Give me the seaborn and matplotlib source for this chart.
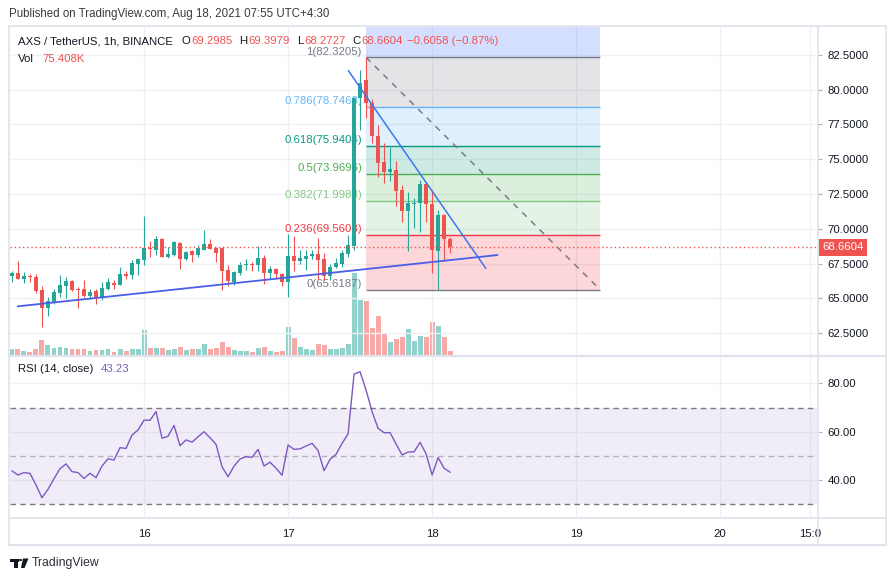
import numpy as np
import seaborn as sns
import matplotlib.pyplot as plt
import matplotlib.transforms as mtransforms
from matplotlib.lines import Line2D
from matplotlib.patches import Polygon, Circle

W, H = 892, 581

# hourly candles, x = hours since Aug 15 00:00 (local)
hours = list(range(2, 76))
opens = [66.60, 66.80, 66.40, 66.58, 66.53, 65.60, 64.30, 64.72, 65.40, 65.90,
         66.24, 65.66, 65.65, 65.16, 65.50, 65.07, 65.69, 66.07, 65.95, 66.74,
         66.67, 67.50, 67.77, 68.60, 68.47, 69.26, 68.00, 68.11, 68.98, 67.82,
         68.40, 68.11, 68.47, 68.90, 68.61, 68.61, 67.03, 66.17, 66.82, 67.39,
         67.50, 67.39, 67.90, 66.82, 67.10, 66.74, 66.17, 68.04, 67.70, 67.80,
         68.04, 68.18, 67.80, 66.60, 67.22, 67.50, 68.18, 68.76, 79.38, 80.70,
         79.03, 76.67, 74.80, 74.10, 74.23, 72.79, 71.30, 71.80, 71.87, 73.22,
         71.78, 68.42, 70.99, 69.2985]
highs = [66.95, 67.68, 66.90, 66.75, 66.75, 65.90, 65.10, 65.70, 66.70, 66.55,
         66.30, 65.83, 66.30, 65.66, 65.66, 66.15, 66.43, 66.31, 67.25, 66.96,
         67.75, 67.90, 70.90, 69.10, 69.48, 69.33, 68.68, 69.12, 69.05, 68.40,
         68.47, 68.83, 69.91, 69.26, 68.68, 68.68, 67.39, 66.96, 67.60, 67.82,
         67.60, 68.76, 68.11, 67.32, 67.18, 66.82, 69.62, 69.48, 68.47, 68.47,
         68.47, 69.33, 68.25, 67.50, 67.87, 68.47, 69.55, 79.50, 81.42, 82.3205,
         79.30, 77.46, 76.19, 75.86, 74.90, 73.15, 72.67, 72.20, 73.51, 73.39,
         72.79, 71.35, 71.06, 69.3979]
lows = [66.20, 66.36, 66.10, 66.20, 65.40, 62.90, 63.75, 64.60, 65.10, 65.05,
        65.55, 64.30, 65.10, 64.93, 64.60, 64.90, 65.59, 65.66, 65.95, 66.40,
        66.39, 66.70, 67.40, 68.00, 68.11, 67.99, 67.92, 68.06, 67.10, 67.75,
        67.60, 67.97, 68.47, 68.54, 67.60, 65.60, 65.88, 65.95, 66.67, 67.03,
        66.96, 66.96, 66.03, 66.39, 66.39, 65.88, 65.09, 66.96, 67.50, 67.03,
        67.82, 66.31, 66.31, 66.31, 67.15, 67.27, 67.99, 68.47, 77.10, 78.00,
        76.19, 73.70, 73.31, 73.46, 71.64, 70.50, 68.42, 70.03, 69.79, 70.50,
        66.79, 65.6187, 67.70, 68.2727]
closes = [66.80, 66.38, 66.62, 66.52, 65.55, 64.30, 64.78, 65.43, 65.95, 66.25,
          65.62, 65.60, 65.15, 65.43, 65.10, 65.74, 66.17, 65.93, 66.74, 66.60,
          67.53, 67.82, 68.61, 68.55, 69.26, 67.99, 68.18, 69.05, 67.82, 68.33,
          68.11, 68.61, 68.90, 68.54, 68.25, 66.96, 66.24, 66.89, 67.39, 67.50,
          67.39, 67.90, 66.82, 67.10, 66.74, 66.17, 68.04, 67.68, 67.87, 68.04,
          68.18, 67.75, 66.60, 67.27, 67.56, 68.27, 68.83, 79.38, 80.50, 79.03,
          76.67, 74.75, 74.10, 74.30, 72.74, 71.30, 71.87, 71.87, 73.22, 71.78,
          68.47, 70.99, 69.2662, 68.6604]
volumes_k = [113, 113, 75, 57, 113, 283, 189, 132, 151, 132,
             113, 113, 113, 75, 94, 94, 113, 57, 113, 75,
             113, 113, 471, 132, 132, 132, 94, 113, 151, 94,
             113, 113, 207, 113, 132, 245, 151, 94, 75, 75,
             57, 132, 151, 75, 57, 75, 528, 320, 151, 113,
             94, 207, 189, 113, 113, 132, 207, 1546, 1037, 1018,
             509, 735, 396, 245, 302, 339, 490, 264, 358, 339,
             622, 547, 339, 75.408]
rsi = [43.8, 42.1, 43.1, 42.8, 38.0, 32.7, 36.2, 40.6, 44.7, 46.7,
       43.5, 43.1, 40.7, 42.8, 41.0, 45.8, 48.8, 48.3, 53.4, 53.1,
       58.6, 60.7, 64.8, 64.7, 68.3, 57.3, 58.1, 62.6, 54.2, 56.6,
       55.7, 57.9, 60.0, 57.5, 54.8, 45.5, 41.4, 45.8, 48.7, 49.7,
       49.4, 52.7, 45.8, 47.4, 44.9, 42.0, 54.5, 52.7, 52.9, 54.1,
       55.2, 52.2, 43.9, 48.6, 50.7, 55.2, 59.1, 83.8, 84.8, 77.2,
       68.3, 61.4, 59.6, 59.6, 54.9, 50.4, 51.6, 51.7, 55.6, 50.8,
       42.1, 49.3, 44.9, 43.23]

day_ticks = [24, 48, 72, 96, 120, 135]
day_labels = ["16", "17", "18", "19", "20", "15:0"]
price_ticks = [62.5, 65.0, 67.5, 70.0, 72.5, 75.0, 77.5, 80.0, 82.5]
rsi_ticks = [40, 60, 80]

# fibonacci retracement drawing
fib_hours = [61, 100]
fib_high, fib_low = 82.3205, 65.6187
fib_ratios = [1.618, 1, 0.786, 0.618, 0.5, 0.382, 0.236, 0]
fib_colors = ["#2962ff", "#787b86", "#64b5f6", "#089981", "#4caf50", "#81c784", "#f23645", "#787b86"]

# hand drawn trend lines
support_hours, support_prices = [2.95, 82.9], [64.42, 68.11]
resist_hours, resist_prices = [58.05, 80.95], [81.37, 67.15]

GREEN, RED = "#26a69a", "#ef5350"
GREEN_V, RED_V = "#92d2cc", "#f7a9a7"
GRID = "#eef0f4"
TXT = "#131722"
FRAME = "#e0e3eb"

sns.set_theme(style="white")
plt.rcParams["font.family"] = ["Liberation Sans", "DejaVu Sans"]
FS = 8.2

fig = plt.figure(figsize=(W / 100, H / 100), dpi=100)
fig.patch.set_facecolor("white")


def box(x0, y0, x1, y1):
    return [x0 / W, 1 - y1 / H, (x1 - x0) / W, (y1 - y0) / H]


ax = fig.add_axes(box(10, 27, 818, 355))
ax_vol = ax.twinx()
ax_rsi = fig.add_axes(box(10, 357, 818, 518), sharex=ax)
ax.set_zorder(2)
ax_vol.set_zorder(1)
ax.patch.set_visible(False)

o = np.array(opens)
c = np.array(closes)
up = c >= o
cols = np.where(up, GREEN, RED)

# volume
ax_vol.bar(hours, volumes_k, width=0.83, color=np.where(up, GREEN_V, RED_V), linewidth=0)
ax_vol.set_ylim(0, max(volumes_k) * 4.0)
ax_vol.yaxis.set_visible(False)

# grid
for t in day_ticks:
    ax.axvline(t, color=GRID, lw=1, zorder=0)
    ax_rsi.axvline(t, color=GRID, lw=1, zorder=0)
for p in price_ticks:
    ax.axhline(p, color=GRID, lw=1, zorder=0)
for v in rsi_ticks:
    ax_rsi.axhline(v, color=GRID, lw=1, zorder=0)

# fib bands, levels and labels
rng = fib_high - fib_low
levels = [fib_low + r * rng for r in fib_ratios]
for i, (r, lv, col) in enumerate(zip(fib_ratios, levels, fib_colors)):
    if i + 1 < len(levels):
        ax.fill_between(fib_hours, levels[i + 1], lv, color=col, alpha=0.2, lw=0, zorder=1)
    ax.hlines(lv, fib_hours[0], fib_hours[1], color=col, lw=1, zorder=1.5)
    if lv < 84:
        ax.annotate(f"{r:g}({lv:.4f})", (fib_hours[0], lv), xytext=(-3, 0.5),
                    textcoords="offset points", ha="right", va="bottom",
                    color=col, fontsize=FS, zorder=1.6)
ax.plot(fib_hours, [fib_high, fib_low], color="#787b86", lw=1.1, ls=(0, (4, 4)), zorder=1.7)

# candles
ax.vlines(hours, lows, highs, colors=cols, lw=0.8, zorder=3)
ax.bar(hours, np.maximum(np.abs(c - o), 0.06), bottom=np.minimum(o, c),
       width=0.7, color=cols, linewidth=0, zorder=3.5)

# trend lines
sns.lineplot(x=support_hours, y=support_prices, ax=ax, color="#4a5ee8", lw=1.3, zorder=4)
sns.lineplot(x=resist_hours, y=resist_prices, ax=ax, color="#3b78f0", lw=1.1, zorder=4)

# last price
ax.axhline(closes[-1], color=RED, lw=1, ls=(0, (1, 2)), zorder=4.5)
trans = mtransforms.blended_transform_factory(ax.transAxes, ax.transData)
ax.annotate(f"{closes[-1]:.4f}", (1.0, closes[-1]), xycoords=trans, xytext=(3, 0),
            textcoords="offset points", ha="left", va="center", color="white",
            fontsize=FS, annotation_clip=False, zorder=10,
            bbox=dict(boxstyle="square,pad=0.3", fc=RED, ec="none"))

ax.set_xlim(1.67, 136.3)
ax.set_ylim(60.92, 84.51)
ax.yaxis.tick_right()
ax.set_yticks(price_ticks)
ax.set_yticklabels([f"{p:.4f}" for p in price_ticks])
ax.tick_params(axis="y", length=3, width=0.8, color="#b2b5be", labelsize=FS,
               labelcolor=TXT, pad=4, right=True, left=False)
ax.tick_params(axis="x", length=0, labelbottom=False)
ax.set_xlabel("")
ax.set_ylabel("")

# RSI pane
ax_rsi.axhspan(30, 70, color="#7e57c2", alpha=0.1, lw=0, zorder=0.5)
ax_rsi.axhline(70, color="#787b86", lw=1, ls=(0, (4, 3)), zorder=1)
ax_rsi.axhline(30, color="#787b86", lw=1, ls=(0, (4, 3)), zorder=1)
ax_rsi.axhline(50, color="#787b86", lw=1, ls=(0, (4, 3)), alpha=0.5, zorder=1)
sns.lineplot(x=hours, y=rsi, ax=ax_rsi, color="#7e57c2", lw=1, zorder=3)
ax_rsi.set_ylim(24.34, 90.87)
ax_rsi.yaxis.tick_right()
ax_rsi.set_yticks(rsi_ticks)
ax_rsi.set_yticklabels([f"{v:.2f}" for v in rsi_ticks])
ax_rsi.tick_params(axis="y", length=3, width=0.8, color="#b2b5be", labelsize=FS,
                   labelcolor=TXT, pad=4, right=True, left=False)
ax_rsi.set_xticks(day_ticks)
ax_rsi.set_xticklabels(day_labels)
ax_rsi.tick_params(axis="x", length=0, labelsize=FS, labelcolor=TXT, pad=8)
ax_rsi.set_xlabel("")
ax_rsi.set_ylabel("")

for a in (ax, ax_vol, ax_rsi):
    for s in a.spines.values():
        s.set_visible(False)


# frame
def fline(x0, y0, x1, y1, **kw):
    fig.add_artist(Line2D([x0 / W, x1 / W], [1 - y0 / H, 1 - y1 / H], transform=fig.transFigure, **kw))


fline(8.5, 26, 886, 26, color=FRAME, lw=1.2)
fline(8.5, 545, 886, 545, color=FRAME, lw=1.5)
fline(8.5, 26, 8.5, 545, color=FRAME, lw=1.2)
fline(886, 26, 886, 545, color=FRAME, lw=1.2)
fline(8.5, 356, 886, 356, color=FRAME, lw=1.5)
fline(8.5, 518, 886, 518, color=FRAME, lw=1.2)
fline(818, 26, 818, 545, color=FRAME, lw=1.2)


def ftext(x, y, s, **kw):
    kw.setdefault("fontsize", FS)
    kw.setdefault("color", TXT)
    fig.text(x / W, 1 - y / H, s, va="center", ha="left", **kw)


ftext(9, 14, "Published on TradingView.com, Aug 18, 2021 07:55 UTC+4:30", color="#3a3a3a", fontsize=8.3)

chg = closes[-1] - closes[-2]
pct = chg / closes[-2] * 100
ftext(18, 41, "AXS / TetherUS, 1h, BINANCE")
ftext(181, 41, "O")
ftext(191, 41, f"{opens[-1]:.4f}", color=RED)
ftext(239, 41, "H")
ftext(248, 41, f"{highs[-1]:.4f}", color=RED)
ftext(297, 41, "L")
ftext(304, 41, f"{lows[-1]:.4f}", color=RED)
ftext(352, 41, "C")
ftext(361, 41, f"{closes[-1]:.4f}", color=RED)
ftext(407, 41, f"{chg:.4f} ({pct:.2f}%)".replace("-", "\u2212"), color=RED)
ftext(18, 59, "Vol")
ftext(42, 59, f"{volumes_k[-1]:.3f}K", color=RED)
ftext(18, 369, "RSI (14, close)")
ftext(101, 369, f"{rsi[-1]:.2f}", color="#7e57c2")


# TradingView logo
def px(x, y):
    return (x / W, 1 - y / H)


logo = dict(transform=fig.transFigure, fc="#131722", ec="none")
fig.add_artist(Polygon([px(10, 558.5), px(18.5, 558.5), px(18.5, 561.5), px(10, 561.5)], **logo))
fig.add_artist(Polygon([px(14, 558.5), px(17.5, 558.5), px(17.5, 568), px(14, 568)], **logo))
fig.add_artist(Circle(px(20.5, 560), 1.6 / W, **logo))
fig.add_artist(Polygon([px(23, 558.5), px(28.5, 558.5), px(24.5, 568), px(21, 568)], **logo))
ftext(32, 563, "TradingView", fontsize=8.8, color="#2a2e39")

fig.savefig("out.png", dpi=100)
